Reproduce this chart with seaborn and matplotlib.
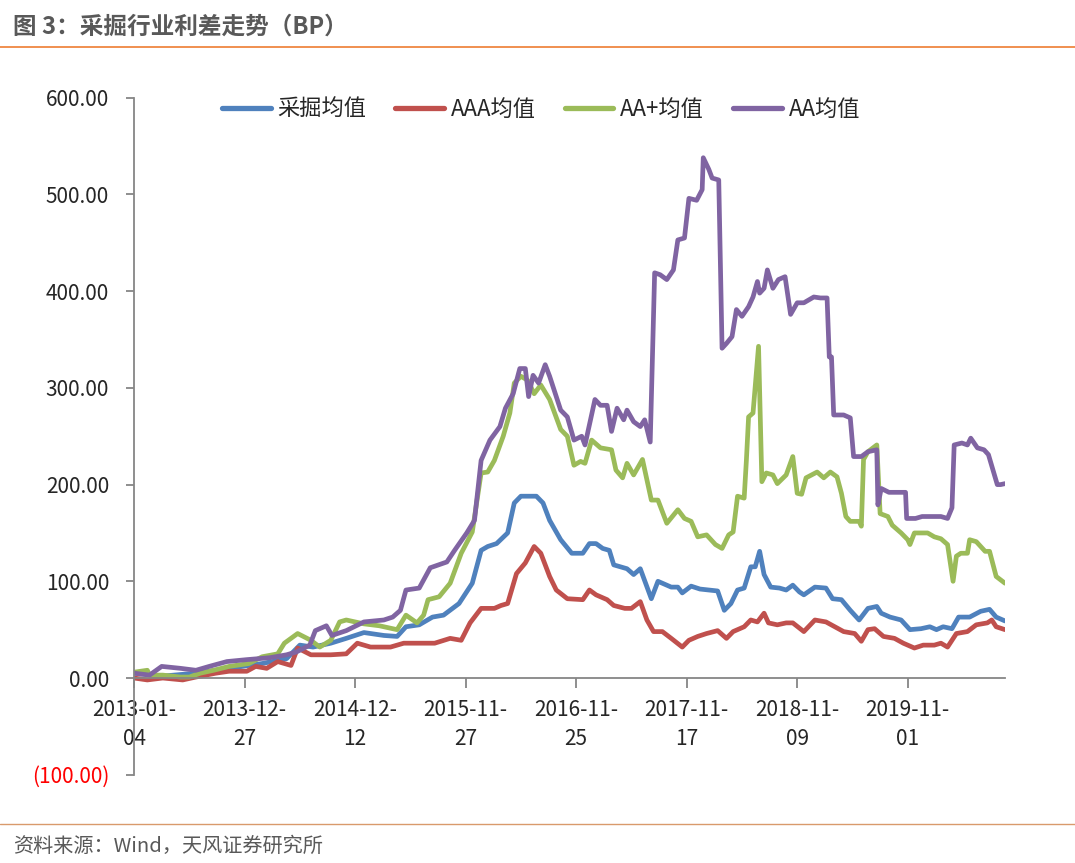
import pandas as pd
import matplotlib
matplotlib.use("Agg")
import matplotlib.pyplot as plt
from matplotlib.lines import Line2D
import seaborn as sns

# Series names / colours (Excel default palette)
SERIES = ["采掘均值", "AAA均值", "AA+均值", "AA均值"]
COLORS = ["#4F81BD", "#C0504D", "#9BBB59", "#8064A2"]

# x = weekly observation number counted from 2013-01-04, y = spread (BP)
mining_week = [0, 13, 28, 43, 58, 69, 75, 81, 89, 96, 104, 113, 119, 123, 129, 135, 140, 147, 153,
               157, 160, 164, 169, 172, 175, 182, 185, 188, 193, 198, 203, 206, 209, 212, 215, 217,
               220, 223, 226, 229, 234, 237, 243, 246, 248, 252, 256, 264, 267, 270, 273, 276, 279,
               281, 283, 285, 288, 292, 295, 298, 301, 303, 308, 313, 316, 320, 324, 328, 332, 336,
               338, 342, 347, 351, 356, 360, 363, 366, 370, 373, 378, 383, 387, 390, 394]
mining_bp = [5, 2, 5, 10, 15, 20, 34, 32, 36, 41, 47, 44, 43, 53, 55, 63, 65, 77, 98,
             132, 136, 139, 150, 181, 188, 188, 181, 163, 143, 129, 129, 139, 139, 134, 132, 117,
             115, 113, 107, 113, 82, 100, 94, 94, 88, 95, 92, 90, 70, 77, 91, 93, 115,
             115, 131, 107, 94, 93, 91, 96, 89, 86, 94, 93, 82, 81, 70, 60, 72, 74,
             67, 63, 60, 50, 51, 53, 50, 53, 51, 63, 63, 69, 71, 63, 59]

aaa_week = [0, 6, 13, 22, 28, 37, 43, 51, 55, 60, 65, 71, 74, 80, 89, 96, 101, 107, 116, 122,
            128, 136, 143, 148, 152, 157, 163, 166, 169, 173, 177, 181, 184, 188, 191, 196, 203,
            206, 209, 214, 217, 222, 225, 229, 232, 235, 239, 243, 248, 251, 255, 259, 264, 268,
            271, 276, 279, 282, 285, 287, 291, 295, 298, 303, 308, 313, 317, 321, 326, 329, 332,
            335, 339, 344, 348, 353, 357, 362, 365, 368, 372, 377, 381, 386, 388, 390, 394]
aaa_bp = [0, -2, 0, -2, 1, 5, 7, 7, 12, 10, 17, 13, 31, 24, 24, 25, 36, 32, 32, 36,
          36, 36, 41, 39, 57, 72, 72, 75, 77, 108, 119, 136, 129, 105, 91, 82, 81,
          91, 86, 81, 75, 72, 72, 79, 60, 48, 48, 41, 32, 39, 43, 46, 49, 41,
          48, 53, 60, 58, 67, 57, 55, 57, 57, 48, 60, 58, 53, 48, 46, 38, 50,
          51, 43, 41, 36, 31, 34, 34, 36, 32, 46, 48, 55, 57, 60, 53, 50]

aa_plus_week = [0, 6, 7, 13, 21, 25, 30, 36, 43, 52, 58, 65, 68, 74, 80, 84, 89, 93, 96, 104,
                111, 119, 123, 128, 131, 133, 138, 143, 148, 153, 157, 160, 163, 167, 170, 172,
                175, 178, 181, 184, 188, 193, 196, 199, 202, 204, 207, 211, 216, 218, 221, 223,
                226, 230, 234, 237, 241, 246, 249, 252, 255, 259, 263, 266, 269, 271, 273, 276,
                277, 278, 280, 282.5, 284, 286, 289, 291, 295, 298, 300, 302, 304, 309, 312, 315,
                318, 320, 322, 324, 328, 329, 330, 332, 336, 337.5, 341, 343, 347, 350, 351, 353,
                359, 362, 365, 368, 370.5, 372, 374, 377, 378, 381, 385, 387, 390, 394]
aa_plus_bp = [6, 8, 3, 3, 1, 1, 5, 8, 12, 15, 22, 25, 36, 46, 39, 32, 39, 58, 60, 56,
              54, 50, 65, 57, 65, 81, 84, 98, 129, 151, 212, 213, 225, 250, 274, 305,
              312, 308, 294, 303, 288, 257, 250, 220, 224, 222, 246, 238, 236, 215, 207, 222,
              210, 226, 184, 184, 160, 174, 165, 162, 146, 148, 138, 134, 148, 151, 188, 186,
              225, 270, 274, 343, 203, 212, 210, 201, 210, 229, 191, 190, 207, 213, 207, 213,
              208, 191, 167, 162, 162, 157, 226, 234, 241, 170, 167, 158, 150, 143, 138, 150,
              150, 146, 144, 138, 100, 126, 129, 129, 143, 141, 131, 131, 105, 98]

aa_week = [0, 7, 12.5, 21, 28, 34, 42, 51, 61.5, 69, 73.5, 79.5, 82, 87, 89.5, 96, 104, 113, 117,
           120.5, 123, 129, 134, 141.5, 145, 150.5, 154, 157, 161, 165.5, 168, 171.5, 174.5, 177,
           178.5, 180.5, 183, 186, 188, 193, 196, 199, 202.5, 204, 208.5, 211, 214, 216, 218.5,
           221.5, 223, 226, 229, 231, 233.5, 235.5, 238, 241, 244, 246, 249, 251, 254.5, 257,
           257.5, 260, 261.5, 264.5, 266, 268, 270.5, 272.5, 275, 278, 280, 282, 283, 285, 286.5,
           289, 291.5, 294.5, 297, 300, 303, 307.5, 310.5, 313.5, 314.5, 315.5, 316.5, 321, 324,
           325.5, 329, 332, 336, 336.5, 338, 341.5, 349, 349.5, 353.5, 356.5, 365, 368, 370, 371,
           374.5, 377, 378.5, 381.5, 384.5, 386.5, 390.5, 392, 394]
aa_bp = [5, 3, 12, 10, 8, 12, 17, 19, 21, 24, 27, 34, 49, 54, 44, 49, 58, 60, 63,
         70, 91, 93, 114, 120, 132, 150, 163, 225, 246, 260, 279, 294, 320, 320,
         291, 313, 305, 324, 312, 277, 270, 246, 250, 241, 288, 282, 282, 255, 279,
         267, 277, 265, 260, 267, 244, 419, 417, 412, 422, 453, 455, 496, 494, 505,
         538, 526, 517, 515, 341, 346, 353, 381, 374, 384, 394, 410, 398, 403, 422,
         403, 412, 415, 376, 388, 388, 394, 393, 393, 332, 332, 272, 272, 269,
         229, 229, 234, 236, 179, 196, 192, 192, 165, 165, 167, 167, 165, 176, 241,
         243, 241, 248, 238, 236, 231, 200, 200, 201]

TICK_WEEKS = [0, 50, 100, 150, 200, 250, 300, 350]
TICK_LABELS = ["2013-01-\n04", "2013-12-\n27", "2014-12-\n12", "2015-11-\n27",
               "2016-11-\n25", "2017-11-\n17", "2018-11-\n09", "2019-11-\n01"]
LAST_WEEK = 394
Y_TICKS = [-100, 0, 100, 200, 300, 400, 500, 600]


def fmt_bp(v):
    return f"({abs(v):.2f})" if v < 0 else f"{v:.2f}"


def main():
    sns.set_theme(style="white")
    plt.rcParams["font.family"] = ["Noto Sans CJK SC", "DejaVu Sans"]

    df = pd.concat([
        pd.DataFrame({"week": w, "bp": v, "series": name})
        for name, w, v in [(SERIES[0], mining_week, mining_bp),
                           (SERIES[1], aaa_week, aaa_bp),
                           (SERIES[2], aa_plus_week, aa_plus_bp),
                           (SERIES[3], aa_week, aa_bp)]
    ], ignore_index=True)

    fig = plt.figure(figsize=(10.75, 8.63), dpi=100)
    ax = fig.add_axes([0.1247, 0.1023, 0.8102, 0.7844])

    sns.lineplot(data=df, x="week", y="bp", hue="series", hue_order=SERIES,
                 palette=COLORS, linewidth=3.4, estimator=None, sort=False,
                 legend=False, ax=ax, solid_capstyle="round", solid_joinstyle="round")

    ax.set_xlim(0, LAST_WEEK)
    ax.set_ylim(-100, 600)
    ax.set_xlabel(""); ax.set_ylabel("")

    # axes look like Excel: y axis left, x axis crossing at 0
    for side in ["top", "right"]:
        ax.spines[side].set_visible(False)
    ax.spines["bottom"].set_position(("data", 0))
    for side in ["left", "bottom"]:
        ax.spines[side].set_color("#868686")
        ax.spines[side].set_linewidth(1.3)

    ax.set_xticks(TICK_WEEKS)
    ax.set_xticklabels(TICK_LABELS)
    ax.set_yticks(Y_TICKS)
    ax.set_yticklabels([fmt_bp(v) for v in Y_TICKS])
    ax.tick_params(axis="x", direction="out", length=7, width=1.3, color="#868686",
                   labelsize=15, pad=8, bottom=True)
    ax.tick_params(axis="y", direction="out", length=6, width=1.3, color="#868686",
                   labelsize=15, pad=12, left=True)
    for lbl in ax.get_xticklabels():
        lbl.set_linespacing(1.4)
    for lbl in ax.get_yticklabels():
        if lbl.get_text().startswith("("):
            lbl.set_color("#FF0000")

    handles = [Line2D([0], [0], color=c, lw=3.8, solid_capstyle="round") for c in COLORS]
    ax.legend(handles, SERIES, loc="center", bbox_to_anchor=(0.467, 0.983), ncol=4,
              frameon=False, fontsize=16, handlelength=2.2, handletextpad=0.3,
              columnspacing=1.3)

    # title, separator lines and source note
    fig.text(0.012, 1 - 27 / 863, "图 3：采掘行业利差走势（BP）", fontsize=17,
             fontweight="bold", color="#595959", va="center", ha="left")
    fig.add_artist(Line2D([0, 1], [1 - 47 / 863] * 2, transform=fig.transFigure,
                          color="#ED7D31", lw=1.2))
    fig.add_artist(Line2D([0, 1], [1 - 824 / 863] * 2, transform=fig.transFigure,
                          color="#D99A6C", lw=1.0))
    fig.text(0.012, 1 - 846 / 863, "资料来源：Wind，天风证券研究所", fontsize=14.5,
             color="#595959", va="center", ha="left")

    fig.savefig("out.png", dpi=100)
    plt.close(fig)


if __name__ == "__main__":
    main()
